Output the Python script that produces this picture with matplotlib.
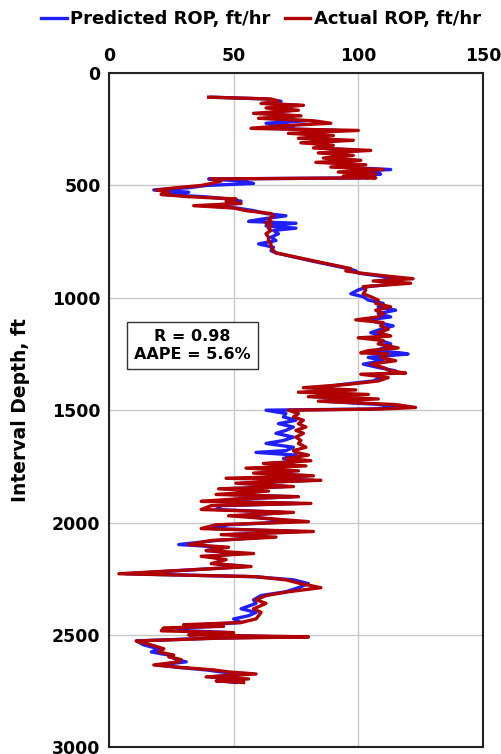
import numpy as np
import matplotlib.pyplot as plt

# depth (ft), actual ROP and predicted ROP (ft/hr)
depth = [107, 115, 125, 135, 143, 155, 165, 179, 190, 201, 212, 223, 235, 246, 255,
         268, 278, 290, 299, 310, 321, 333, 344, 355, 366, 378, 388, 397, 408, 418,
         429, 440, 449, 458, 466, 471, 480, 491, 500, 510, 520, 530, 540, 550, 560,
         570, 580, 590, 600, 612, 625, 635, 650, 660, 668, 680, 690, 700, 715, 730,
         745, 760, 775, 790, 800, 840, 870, 880, 890, 905, 915, 925, 935, 950, 965,
         982, 995, 1010, 1025, 1040, 1055, 1070, 1085, 1098, 1110, 1125, 1140, 1155, 1170, 1178,
         1190, 1205, 1223, 1235, 1245, 1250, 1265, 1280, 1295, 1310, 1325, 1335, 1340, 1355, 1370,
         1385, 1400, 1410, 1420, 1430, 1440, 1450, 1460, 1475, 1488, 1495, 1500, 1515, 1530, 1545,
         1560, 1575, 1590, 1603, 1620, 1635, 1648, 1665, 1680, 1688, 1700, 1715, 1725, 1737, 1748,
         1758, 1770, 1780, 1792, 1803, 1812, 1825, 1840, 1850, 1860, 1875, 1885, 1895, 1906, 1915,
         1925, 1942, 1955, 1970, 1985, 1996, 2010, 2027, 2040, 2054, 2065, 2080, 2098, 2110, 2125,
         2138, 2150, 2165, 2183, 2196, 2228, 2241, 2255, 2272, 2290, 2308, 2325, 2344, 2360, 2384,
         2400, 2415, 2429, 2445, 2455, 2462, 2469, 2482, 2490, 2500, 2509, 2515, 2527, 2545, 2562,
         2576, 2590, 2598, 2610, 2620, 2634, 2645, 2656, 2665, 2674, 2687, 2696, 2705, 2712]

actual = [40, 65, 68, 61, 78, 63, 76, 58, 77, 60, 82, 89, 68, 57, 100,
          72, 90, 76, 98, 77, 90, 82, 105, 84, 98, 86, 101, 83, 103, 89,
          110, 92, 107, 94, 107, 41, 45, 41, 37, 27, 19, 24, 21, 32, 51,
          47, 53, 34, 50, 55, 65, 66, 64, 65, 63, 65, 64, 65, 63, 64,
          64, 65, 65, 66, 67, 84, 97, 95, 101, 113, 122, 106, 121, 102, 103,
          102, 105, 108, 107, 113, 107, 110, 108, 99, 110, 109, 112, 108, 113, 100,
          110, 108, 116, 104, 101, 112, 109, 115, 105, 110, 113, 119, 101, 112, 108,
          96, 78, 99, 76, 104, 80, 108, 84, 115, 123, 109, 72, 76, 74, 78,
          76, 79, 75, 78, 75, 77, 76, 79, 74, 75, 80, 71, 81, 62, 79,
          55, 76, 58, 82, 47, 85, 51, 74, 44, 64, 43, 76, 51, 37, 81,
          41, 37, 74, 48, 67, 80, 43, 37, 82, 45, 67, 41, 32, 48, 39,
          58, 37, 47, 41, 57, 4, 59, 71, 77, 85, 72, 63, 59, 63, 58,
          61, 60, 59, 53, 30, 46, 22, 21, 50, 32, 80, 43, 11, 17, 22,
          20, 26, 24, 29, 28, 18, 29, 42, 48, 59, 39, 56, 43, 54]

predicted = [41, 63, 69, 63, 76, 65, 74, 61, 74, 63, 79, 63, 74, 65, 92,
             76, 86, 79, 94, 80, 88, 84, 101, 86, 96, 88, 99, 88, 100, 92,
             113, 94, 109, 100, 104, 40, 53, 58, 39, 32, 18, 32, 21, 38, 48,
             53, 51, 39, 51, 58, 63, 71, 61, 56, 75, 63, 75, 66, 68, 65,
             67, 60, 66, 65, 67, 83, 96, 99, 100, 110, 115, 108, 117, 104, 100,
             97, 102, 104, 110, 108, 115, 108, 113, 104, 108, 114, 109, 105, 110, 106,
             109, 113, 110, 107, 117, 120, 104, 110, 102, 108, 115, 113, 107, 109, 106,
             94, 84, 92, 79, 99, 82, 102, 86, 109, 117, 104, 63, 71, 70, 75,
             68, 74, 71, 67, 74, 70, 63, 74, 71, 59, 75, 70, 78, 65, 76,
             58, 74, 61, 80, 55, 82, 53, 71, 46, 61, 48, 74, 53, 43, 76,
             45, 43, 70, 53, 65, 74, 48, 41, 76, 49, 63, 43, 28, 46, 39,
             53, 41, 45, 43, 55, 7, 58, 74, 80, 76, 71, 61, 58, 59, 53,
             59, 56, 50, 53, 38, 43, 27, 32, 48, 41, 68, 41, 11, 14, 20,
             17, 24, 25, 27, 31, 20, 28, 39, 45, 55, 41, 53, 45, 51]

fig = plt.figure(figsize=(5.02, 7.54), dpi=100)
ax = fig.add_axes([0.217, 0.009, 0.745, 0.894])

ax.plot(predicted, depth, color='#1f1fff', lw=2.4, label='Predicted ROP, ft/hr')
ax.plot(actual, depth, color='#b00000', lw=2.4, label='Actual ROP, ft/hr')

ax.set_xlim(0, 150)
ax.set_ylim(3000, 0)
ax.set_xticks([0, 50, 100, 150])
ax.set_yticks(np.arange(0, 3001, 500))
ax.xaxis.tick_top()
ax.tick_params(length=0, labelsize=12.5, pad=6)
for lab in ax.get_xticklabels() + ax.get_yticklabels():
    lab.set_fontweight('bold')
ax.grid(color='#c8c8c8', lw=1)
ax.set_axisbelow(True)
for s in ax.spines.values():
    s.set_linewidth(1.5)
    s.set_color('#222222')

ax.set_ylabel('Interval Depth, ft', fontsize=13.5, fontweight='bold', labelpad=16)

ax.text(0.223, 0.596, 'R = 0.98\nAAPE = 5.6%', transform=ax.transAxes,
        ha='center', va='center', fontsize=11.5, fontweight='bold', linespacing=1.2,
        bbox=dict(boxstyle='square,pad=0.45', fc='white', ec='#333333', lw=1))

fig.legend(loc='upper center', bbox_to_anchor=(0.52, 1.008), ncol=2, frameon=False,
           prop={'weight': 'bold', 'size': 13}, handlelength=1.4, handletextpad=0.2,
           columnspacing=0.8)

fig.savefig('out.png', dpi=100)
